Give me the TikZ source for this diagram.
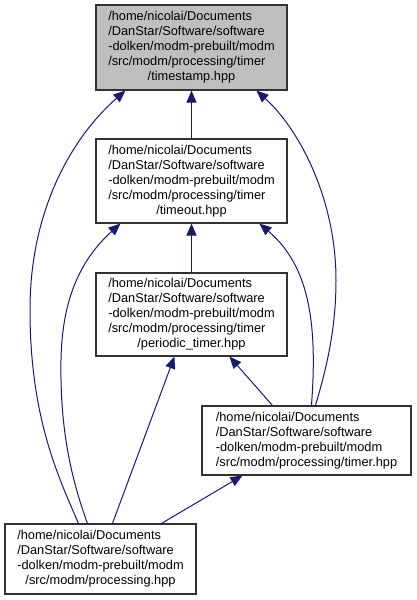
\documentclass[tikz,border=0pt]{standalone}
\usepackage{fontspec}
\setmainfont{Liberation Sans}
\usetikzlibrary{arrows.meta,calc}
\definecolor{edgeblue}{RGB}{25,25,112}
\definecolor{boxline}{RGB}{50,50,50}
\definecolor{curfill}{RGB}{191,191,191}
\newcommand{\ftxt}[5]{\begin{tabular}{@{}l@{}}#1\\#2\\#3\\#4\\\multicolumn{1}{@{}c@{}}{#5}\end{tabular}}
\newcommand{\ftxtfour}[4]{\begin{tabular}{@{}l@{}}#1\\#2\\#3\\\multicolumn{1}{@{}c@{}}{#4}\end{tabular}}
\begin{document}
\begin{tikzpicture}[x=1pt,y=-1pt,
  filebox/.style={draw=boxline,line width=1.1pt,fill=white,rectangle,inner sep=0pt,
    font=\fontsize{12.8}{15}\selectfont},
  edge/.style={draw=edgeblue,line width=1pt,-{Triangle[length=12pt,width=10pt,fill=edgeblue]}}]
\useasboundingbox (0,0) rectangle (416,600);
\node[filebox,fill=curfill,minimum width=191pt,minimum height=85pt] (A) at (191.5,47.5)
  {\ftxt{/home/nicolai/Documents}{/DanStar/Software/software}{-dolken/modm-prebuilt/modm}{/src/modm/processing/timer}{/timestamp.hpp}};
\node[filebox,minimum width=191pt,minimum height=84pt] (B) at (191.5,181)
  {\ftxt{/home/nicolai/Documents}{/DanStar/Software/software}{-dolken/modm-prebuilt/modm}{/src/modm/processing/timer}{/timeout.hpp}};
\node[filebox,minimum width=191pt,minimum height=83pt] (C) at (191.5,314.5)
  {\ftxt{/home/nicolai/Documents}{/DanStar/Software/software}{-dolken/modm-prebuilt/modm}{/src/modm/processing/timer}{/periodic\_timer.hpp}};
\node[filebox,minimum width=209pt,minimum height=69pt] (D) at (306.5,440.5)
  {\ftxtfour{/home/nicolai/Documents}{/DanStar/Software/software}{-dolken/modm-prebuilt/modm}{/src/modm/processing/timer.hpp}};
\node[filebox,minimum width=191pt,minimum height=70pt] (E) at (100.5,559)
  {\ftxtfour{/home/nicolai/Documents}{/DanStar/Software/software}{-dolken/modm-prebuilt/modm}{/src/modm/processing.hpp}};
% edges
\draw[edge] (B.north) -- (A.south);
\draw[edge] ($(E.north west)+(74,0)$) .. controls (60,480) and (30,420) .. (30,310)
  .. controls (30,200) and (80,130) .. ($(A.south west)+(30,0)$);
\draw[edge] ($(E.north west)+(83,0)$) .. controls (68,470) and (60,420) .. (61,360)
  .. controls (62,300) and (80,260) .. ($(B.south west)+(25,0)$);
\draw[edge] ($(E.north west)+(108,0)$) -- ($(C.south west)+(79,0)$);
\draw[edge] ($(E.north west)+(157,0)$) -- ($(D.south west)+(41,0)$);
\draw[edge] (C.north) -- (B.south);
\draw[edge] ($(D.north west)+(71,0)$) -- ($(C.south west)+(134,0)$);
\draw[edge] ($(D.north west)+(110,0)$) .. controls (318,320) and (308,265) .. ($(B.south west)+(164,0)$);
\draw[edge] ($(D.north west)+(114,0)$) .. controls (326,370) and (336,330) .. (336,280)
  .. controls (336,200) and (300,130) .. ($(A.south west)+(161,0)$);
\end{tikzpicture}
\end{document}
